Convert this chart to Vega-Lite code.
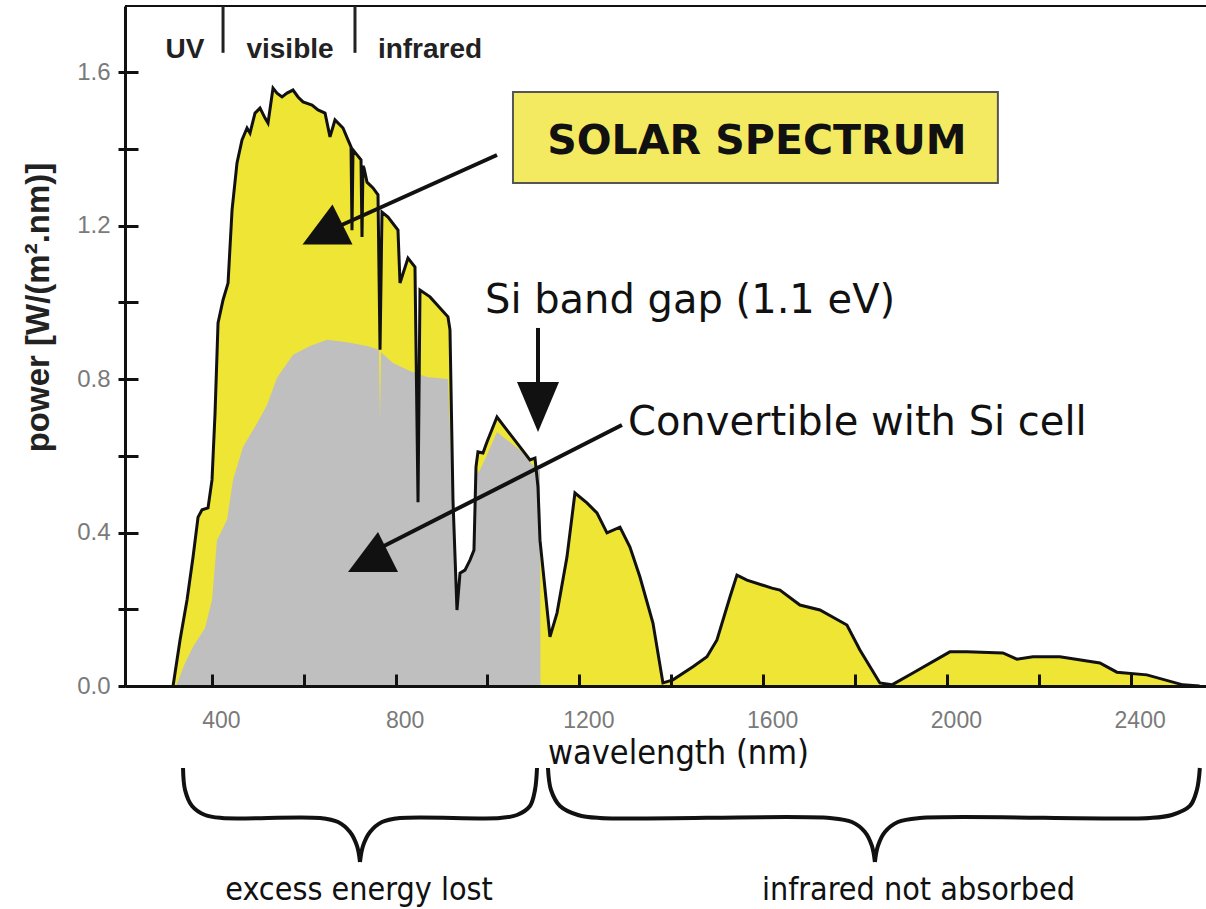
{
  "$schema": "https://vega.github.io/schema/vega-lite/v6.json",
  "autosize": "none",
  "padding": {"left": 125, "top": 6, "right": 0, "bottom": 223},
  "width": 1081,
  "height": 680,
  "background": "white",
  "config": {"view": {"stroke": null}},
  "datasets": {
    "outer": [
      {"nm":315.6,"v":0},{"nm":330.8,"v":0.12},{"nm":346,"v":0.224},{"nm":359.1,"v":0.336},{"nm":370,"v":0.44},{"nm":378.7,"v":0.459},{"nm":391.7,"v":0.464},{"nm":400.4,"v":0.537},{"nm":407,"v":0.711},{"nm":413.5,"v":0.946},{"nm":424.4,"v":1.006},{"nm":435.3,"v":1.05},{"nm":444,"v":1.24},{"nm":454.8,"v":1.363},{"nm":465.7,"v":1.423},{"nm":476.6,"v":1.454},{"nm":483.1,"v":1.441},{"nm":494,"v":1.493},{"nm":504.9,"v":1.506},{"nm":515.8,"v":1.48},{"nm":522.3,"v":1.467},{"nm":533.2,"v":1.558},{"nm":541.9,"v":1.545},{"nm":552.8,"v":1.535},{"nm":563.7,"v":1.545},{"nm":576.7,"v":1.553},{"nm":587.6,"v":1.535},{"nm":598.5,"v":1.522},{"nm":618.1,"v":1.514},{"nm":631.1,"v":1.501},{"nm":646.4,"v":1.493},{"nm":657.2,"v":1.431},{"nm":668.1,"v":1.475},{"nm":685.5,"v":1.454},{"nm":696.4,"v":1.423},{"nm":703,"v":1.405},{"nm":705.1,"v":1.188},{"nm":707.3,"v":1.397},{"nm":716,"v":1.384},{"nm":724.7,"v":1.371},{"nm":726.9,"v":1.17},{"nm":729,"v":1.355},{"nm":731.2,"v":1.35},{"nm":737.8,"v":1.313},{"nm":750.8,"v":1.298},{"nm":761.7,"v":1.28},{"nm":766.1,"v":0.876},{"nm":770.4,"v":1.235},{"nm":783.5,"v":1.222},{"nm":805.2,"v":1.188},{"nm":809.6,"v":1.05},{"nm":827,"v":1.115},{"nm":842.2,"v":1.092},{"nm":848.8,"v":0.479},{"nm":853.1,"v":1.032},{"nm":874.9,"v":1.014},{"nm":914,"v":0.962},{"nm":918.4,"v":0.928},{"nm":924.9,"v":0.485},{"nm":933.6,"v":0.198},{"nm":940.2,"v":0.294},{"nm":951,"v":0.302},{"nm":961.9,"v":0.328},{"nm":970.6,"v":0.354},{"nm":975,"v":0.571},{"nm":979.3,"v":0.61},{"nm":990.2,"v":0.607},{"nm":998.9,"v":0.636},{"nm":1020.7,"v":0.701},{"nm":1042.5,"v":0.667},{"nm":1070.7,"v":0.623},{"nm":1092.5,"v":0.589},{"nm":1103.4,"v":0.594},{"nm":1109.9,"v":0.519},{"nm":1114.3,"v":0.38},{"nm":1136,"v":0.128},{"nm":1151.3,"v":0.19},{"nm":1173,"v":0.336},{"nm":1190.4,"v":0.503},{"nm":1216.5,"v":0.477},{"nm":1238.3,"v":0.451},{"nm":1260.1,"v":0.399},{"nm":1288.4,"v":0.414},{"nm":1310.1,"v":0.362},{"nm":1331.9,"v":0.284},{"nm":1360.2,"v":0.164},{"nm":1381.9,"v":0.008},{"nm":1403.7,"v":0.016},{"nm":1447.2,"v":0.05},{"nm":1477.7,"v":0.076},{"nm":1499.5,"v":0.12},{"nm":1527.8,"v":0.232},{"nm":1543,"v":0.289},{"nm":1564.8,"v":0.276},{"nm":1619.2,"v":0.255},{"nm":1636.6,"v":0.25},{"nm":1680.1,"v":0.211},{"nm":1723.6,"v":0.198},{"nm":1782.4,"v":0.159},{"nm":1810.7,"v":0.094},{"nm":1854.2,"v":0.008},{"nm":1880.3,"v":0.003},{"nm":1926,"v":0.034},{"nm":2006.5,"v":0.089},{"nm":2043.5,"v":0.089},{"nm":2121.9,"v":0.086},{"nm":2152.4,"v":0.07},{"nm":2187.2,"v":0.076},{"nm":2245.9,"v":0.076},{"nm":2333,"v":0.06},{"nm":2370,"v":0.036},{"nm":2435.3,"v":0.029},{"nm":2513.6,"v":0.003},{"nm":2550,"v":0}
    ],
    "si": [
      {"nm":322,"v":0},{"nm":341.7,"v":0.06},{"nm":359.1,"v":0.102},{"nm":385.2,"v":0.151},{"nm":400.4,"v":0.224},{"nm":411.3,"v":0.38},{"nm":433.1,"v":0.433},{"nm":446.1,"v":0.537},{"nm":467.9,"v":0.623},{"nm":498.4,"v":0.685},{"nm":520.1,"v":0.732},{"nm":541.9,"v":0.803},{"nm":576.7,"v":0.863},{"nm":613.7,"v":0.886},{"nm":650.7,"v":0.902},{"nm":694.2,"v":0.896},{"nm":737.8,"v":0.886},{"nm":763.9,"v":0.876},{"nm":766.1,"v":0.693},{"nm":768.3,"v":0.87},{"nm":794.4,"v":0.842},{"nm":831.3,"v":0.821},{"nm":868.3,"v":0.805},{"nm":914,"v":0.8},{"nm":924.9,"v":0.485},{"nm":933.6,"v":0.198},{"nm":940.2,"v":0.289},{"nm":951,"v":0.297},{"nm":961.9,"v":0.323},{"nm":970.6,"v":0.349},{"nm":975,"v":0.55},{"nm":983.7,"v":0.563},{"nm":998.9,"v":0.602},{"nm":1020.7,"v":0.662},{"nm":1042.5,"v":0.641},{"nm":1070.7,"v":0.615},{"nm":1092.5,"v":0.584},{"nm":1109.9,"v":0.563},{"nm":1114.3,"v":0.563},{"nm":1115.4,"v":0}
    ],
    "braces": [
      {"part":"LA","nm":337.3,"v":-0.2137},{"part":"LA","nm":341.7,"v":-0.271},{"part":"LA","nm":356.9,"v":-0.3127},{"part":"LA","nm":385.2,"v":-0.3362},{"part":"LA","nm":422.2,"v":-0.344},{"part":"LA","nm":635.5,"v":-0.344},{"part":"LA","nm":674.7,"v":-0.3544},{"part":"LA","nm":700.8,"v":-0.3805},{"part":"LA","nm":716,"v":-0.4169},{"part":"LA","nm":722.5,"v":-0.4586},
      {"part":"LB","nm":722.5,"v":-0.4586},{"part":"LB","nm":729.1,"v":-0.4169},{"part":"LB","nm":744.3,"v":-0.3805},{"part":"LB","nm":770.4,"v":-0.3544},{"part":"LB","nm":809.6,"v":-0.344},{"part":"LB","nm":1027.2,"v":-0.344},{"part":"LB","nm":1064.2,"v":-0.3362},{"part":"LB","nm":1092.5,"v":-0.3127},{"part":"LB","nm":1103.4,"v":-0.271},{"part":"LB","nm":1107.8,"v":-0.2137},
      {"part":"RA","nm":1131.7,"v":-0.2137},{"part":"RA","nm":1138.3,"v":-0.271},{"part":"RA","nm":1157.8,"v":-0.3127},{"part":"RA","nm":1197,"v":-0.3362},{"part":"RA","nm":1244.8,"v":-0.344},{"part":"RA","nm":1745.4,"v":-0.344},{"part":"RA","nm":1793.3,"v":-0.3544},{"part":"RA","nm":1821.6,"v":-0.3805},{"part":"RA","nm":1836.8,"v":-0.4169},{"part":"RA","nm":1843.3,"v":-0.4586},
      {"part":"RB","nm":1843.3,"v":-0.4586},{"part":"RB","nm":1849.9,"v":-0.4169},{"part":"RB","nm":1865.1,"v":-0.3805},{"part":"RB","nm":1893.4,"v":-0.3544},{"part":"RB","nm":1941.3,"v":-0.344},{"part":"RB","nm":2441.8,"v":-0.344},{"part":"RB","nm":2489.7,"v":-0.3362},{"part":"RB","nm":2528.9,"v":-0.3127},{"part":"RB","nm":2544.1,"v":-0.271},{"part":"RB","nm":2550.6,"v":-0.2137}
    ]
  },
  "resolve": {"axis": {"y": "independent"}},
  "layer": [
    {
      "data": {"name": "outer"},
      "mark": {"type": "area", "color": "#efe535"},
      "encoding": {
        "x": {"field": "nm", "type": "quantitative",
          "scale": {"domain": [211, 2564], "nice": false, "zero": false},
          "axis": {"title": "wavelength (nm)", "values": [400,600,800,1000,1200,1400,1600,1800,2000,2200,2400], "format": "d",
            "labelExpr": "datum.value % 400 == 0 ? datum.label : ''", "zindex": 1,
            "grid": false, "tickSize": -12, "tickWidth": 3, "tickColor": "#111", "domainColor": "#111", "domainWidth": 3,
            "labelFont": "Liberation Sans", "labelFontSize": 23, "labelColor": "#7a7a7a", "labelPadding": 35, "labelOffset": 9,
            "titleFont": "DejaVu Sans Condensed, Liberation Sans, sans-serif", "titleFontSize": 34, "titleFontWeight": "normal", "titleColor": "#111",
            "titleX": 553, "titleY": 77, "titleBaseline": "alphabetic", "titleAlign": "center"}},
        "y": {"field": "v", "type": "quantitative",
          "scale": {"domain": [0, 1.772], "nice": false},
          "axis": {"title": "power [W/(m².nm)]", "values": [0,0.2,0.4,0.6,0.8,1.0,1.2,1.4,1.6], "orient": "left", "zindex": 1,
            "labelExpr": "round(datum.value*10) % 4 == 0 ? format(datum.value, '.1f') : ''",
            "grid": false, "tickSize": 7, "tickWidth": 3, "tickColor": "#111", "domainColor": "#111", "domainWidth": 3,
            "labelFont": "Liberation Sans", "labelFontSize": 24, "labelColor": "#7a7a7a", "labelPadding": 8,
            "titleFont": "Liberation Sans", "titleFontSize": 33, "titleFontWeight": "bold", "titleColor": "#222",
            "titleX": -87, "titleY": 301, "titleAngle": 270, "titleAlign": "center", "titleBaseline": "middle"}}
      }
    },
    {
      "data": {"name": "si"},
      "mark": {"type": "area", "color": "#bfbfbf"},
      "encoding": {
        "x": {"field": "nm", "type": "quantitative"},
        "y": {"field": "v", "type": "quantitative",
          "axis": {"title": null, "orient": "left", "offset": 0, "zindex": 1, "values": [0,0.2,0.4,0.6,0.8,1.0,1.2,1.4,1.6], "labels": false, "domain": false, "grid": false,
            "tickSize": -13, "tickWidth": 3, "tickColor": "#111"}}
      }
    },
    {
      "data": {"name": "outer"},
      "mark": {"type": "line", "color": "#111", "strokeWidth": 3},
      "encoding": {
        "x": {"field": "nm", "type": "quantitative"},
        "y": {"field": "v", "type": "quantitative", "axis": null}
      }
    },
    {
      "data": {"values": [{}]},
      "mark": {"type": "rule", "color": "#111", "strokeWidth": 2},
      "encoding": {"y": {"datum": 1.772, "type": "quantitative", "axis": null}}
    },
    {
      "data": {"values": [{"nm": 424.4}, {"nm": 711.6}]},
      "mark": {"type": "rule", "color": "#222", "strokeWidth": 3},
      "encoding": {
        "x": {"field": "nm", "type": "quantitative"},
        "y": {"datum": 1.65, "type": "quantitative", "axis": null},
        "y2": {"datum": 1.772}
      }
    },
    {
      "data": {"values": [{"nm": 341.7, "t": "UV"}, {"nm": 570.2, "t": "visible"}, {"nm": 874.9, "t": "infrared"}]},
      "mark": {"type": "text", "font": "Liberation Sans", "fontWeight": "bold", "fontSize": 28, "color": "#222", "align": "center", "baseline": "alphabetic"},
      "encoding": {
        "x": {"field": "nm", "type": "quantitative"},
        "y": {"datum": 1.6365, "type": "quantitative", "axis": null},
        "text": {"field": "t"}
      }
    },
    {
      "data": {"values": [{"nm": 1055.5, "nm2": 2111, "v": 1.548, "v2": 1.311}]},
      "mark": {"type": "rect", "fill": "#f4ea62", "stroke": "#555", "strokeWidth": 2},
      "encoding": {
        "x": {"field": "nm", "type": "quantitative"},
        "x2": {"field": "nm2"},
        "y": {"field": "v", "type": "quantitative", "axis": null},
        "y2": {"field": "v2"}
      }
    },
    {
      "data": {"values": [{"nm": 1586.5, "v": 1.3863, "t": "SOLAR SPECTRUM"}]},
      "mark": {"type": "text", "font": "DejaVu Sans", "fontWeight": "bold", "fontSize": 41, "color": "#111", "align": "center", "baseline": "alphabetic"},
      "encoding": {
        "x": {"field": "nm", "type": "quantitative"},
        "y": {"field": "v", "type": "quantitative", "axis": null},
        "text": {"field": "t"}
      }
    },
    {
      "data": {"values": [{"nm": 994.6, "v": 0.972, "t": "Si band gap (1.1 eV)"}, {"nm": 1305.8, "v": 0.654, "t": "Convertible with Si cell"}]},
      "mark": {"type": "text", "font": "DejaVu Sans", "fontSize": 40, "color": "#111", "align": "left", "baseline": "alphabetic"},
      "encoding": {
        "x": {"field": "nm", "type": "quantitative"},
        "y": {"field": "v", "type": "quantitative", "axis": null},
        "text": {"field": "t"}
      }
    },
    {
      "data": {"values": [
        {"nm": 1020.7, "v": 1.3837, "nm2": 668.1, "v2": 1.1935},
        {"nm": 1292.7, "v": 0.6801, "nm2": 766.1, "v2": 0.3596},
        {"nm": 1110, "v": 0.933, "nm2": 1110, "v2": 0.76}
      ]},
      "mark": {"type": "rule", "color": "#111", "strokeWidth": 4},
      "encoding": {
        "x": {"field": "nm", "type": "quantitative"},
        "x2": {"field": "nm2"},
        "y": {"field": "v", "type": "quantitative", "axis": null},
        "y2": {"field": "v2"}
      }
    },
    {
      "data": {"values": [{"nm": 651.8, "v": 1.2026}, {"nm": 750.8, "v": 0.3492}]},
      "mark": {"type": "point", "filled": true, "shape": "M-1,0.8L0.2,-0.8L1,0.8Z", "size": 2500, "color": "#111", "opacity": 1, "strokeWidth": 0},
      "encoding": {
        "x": {"field": "nm", "type": "quantitative"},
        "y": {"field": "v", "type": "quantitative", "axis": null}
      }
    },
    {
      "data": {"values": [{"nm": 1110, "v": 0.727}]},
      "mark": {"type": "point", "filled": true, "shape": "M-0.84,-1L0.84,-1L0,1Z", "size": 2500, "color": "#111", "opacity": 1, "strokeWidth": 0},
      "encoding": {
        "x": {"field": "nm", "type": "quantitative"},
        "y": {"field": "v", "type": "quantitative", "axis": null}
      }
    },
    {
      "data": {"name": "braces"},
      "mark": {"type": "line", "color": "#111", "strokeWidth": 4, "interpolate": "catmull-rom"},
      "encoding": {
        "x": {"field": "nm", "type": "quantitative"},
        "y": {"field": "v", "type": "quantitative", "axis": null},
        "detail": {"field": "part"}
      }
    },
    {
      "data": {"values": [{"nm": 720.4, "t": "excess energy lost"}, {"nm": 1938, "t": "infrared not absorbed"}]},
      "mark": {"type": "text", "font": "DejaVu Sans Condensed, Liberation Sans, sans-serif", "fontSize": 32, "color": "#111", "align": "center", "baseline": "alphabetic"},
      "encoding": {
        "x": {"field": "nm", "type": "quantitative"},
        "y": {"datum": -0.5577, "type": "quantitative", "axis": null},
        "text": {"field": "t"}
      }
    }
  ]
}
